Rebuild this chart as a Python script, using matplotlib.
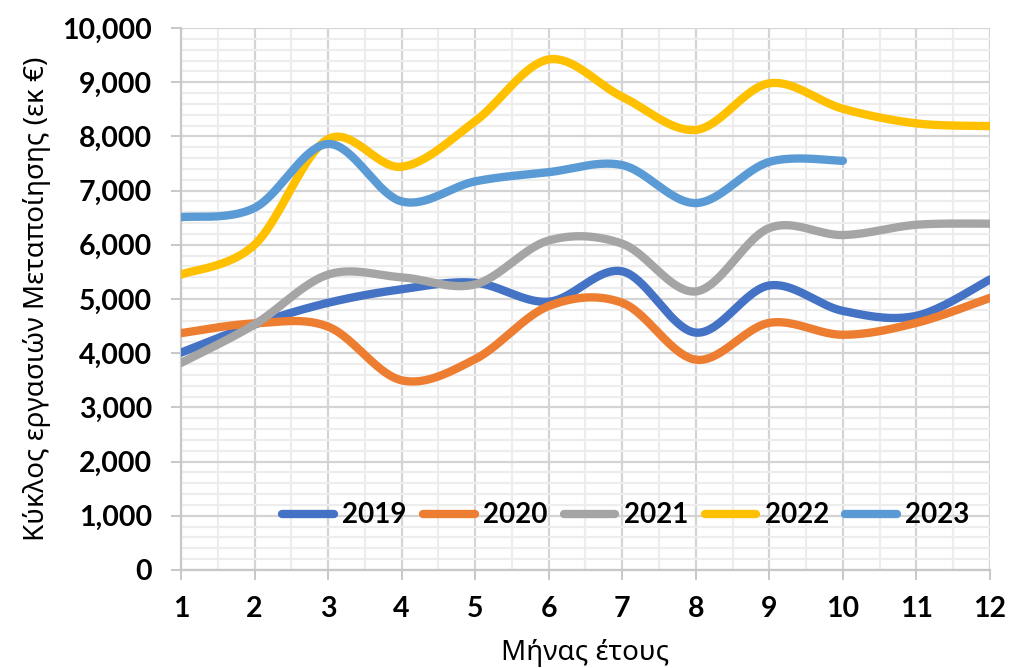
import numpy as np
import matplotlib
matplotlib.use("Agg")
import matplotlib.pyplot as plt
from matplotlib.ticker import MultipleLocator, FuncFormatter

# Monthly turnover (thousand €) per year
months = list(range(1, 13))
y2019 = [4010, 4530, 4930, 5180, 5300, 4950, 5510, 4380, 5250, 4780, 4690, 5360]
y2020 = [4370, 4550, 4490, 3500, 3890, 4870, 4930, 3880, 4560, 4340, 4560, 5020]
y2021 = [3820, 4530, 5450, 5400, 5270, 6080, 6020, 5140, 6310, 6180, 6370, 6390]
y2022 = [5450, 6000, 7950, 7440, 8280, 9420, 8730, 8120, 8980, 8510, 8240, 8190]
y2023 = [6510, 6680, 7860, 6800, 7170, 7340, 7470, 6770, 7530, 7550]

series = [
    ("2019", y2019, "#4472C4"),
    ("2020", y2020, "#ED7D31"),
    ("2021", y2021, "#A5A5A5"),
    ("2022", y2022, "#FFC000"),
    ("2023", y2023, "#5B9BD5"),
]


def smooth(xs, ys, n=40):
    """Bezier smoothing through every point (Catmull-Rom style tangents)."""
    xs = np.asarray(xs, float)
    ys = np.asarray(ys, float)
    px, py = [], []
    m = len(xs)
    for i in range(m - 1):
        x0, y0 = (xs[i - 1], ys[i - 1]) if i > 0 else (xs[i], ys[i])
        x1, y1 = xs[i], ys[i]
        x2, y2 = xs[i + 1], ys[i + 1]
        x3, y3 = (xs[i + 2], ys[i + 2]) if i + 2 < m else (x2, y2)
        c1x, c1y = x1 + (x2 - x0) / 6, y1 + (y2 - y0) / 6
        c2x, c2y = x2 - (x3 - x1) / 6, y2 - (y3 - y1) / 6
        t = np.linspace(0, 1, n, endpoint=(i == m - 2))
        a, b, c, d = (1 - t) ** 3, 3 * t * (1 - t) ** 2, 3 * t ** 2 * (1 - t), t ** 3
        px.append(a * x1 + b * c1x + c * c2x + d * x2)
        py.append(a * y1 + b * c1y + c * c2y + d * y2)
    return np.concatenate(px), np.concatenate(py)


plt.rcParams["font.family"] = ["Lato", "Noto Sans", "DejaVu Sans"]

fig = plt.figure(figsize=(10.09, 6.68), dpi=100)
ax = fig.add_axes([181 / 1009, 1 - 570 / 668, (990 - 181) / 1009, (570 - 28) / 668])

for label, vals, color in series:
    sx, sy = smooth(months[: len(vals)], vals)
    ax.plot(sx, sy, color=color, lw=6, solid_capstyle="round", label=label, zorder=3)

ax.set_xlim(1, 12)
ax.set_ylim(0, 10000)
ax.xaxis.set_major_locator(MultipleLocator(1))
ax.xaxis.set_minor_locator(MultipleLocator(0.5))
ax.yaxis.set_major_locator(MultipleLocator(1000))
ax.yaxis.set_minor_locator(MultipleLocator(200))
ax.yaxis.set_major_formatter(FuncFormatter(lambda v, p: f"{int(v):,}"))

ax.grid(which="major", color="#D4D4D4", lw=1.6, zorder=0)
ax.grid(which="minor", color="#EDEDED", lw=1.6, zorder=0)
ax.set_axisbelow(True)

for s in ("top", "right"):
    ax.spines[s].set_visible(False)
for s in ("left", "bottom"):
    ax.spines[s].set_color("#C8C8C8")
    ax.spines[s].set_linewidth(1.6)

ax.tick_params(which="major", length=7, width=1.4, color="#C8C8C8",
               labelsize=20.5, labelcolor="black")
ax.tick_params(which="minor", length=0)
ax.tick_params(axis="y", pad=14)
ax.tick_params(axis="x", pad=12)
for t in ax.get_xticklabels() + ax.get_yticklabels():
    t.set_fontweight("bold")

ax.set_xlabel("Μήνας έτους", fontsize=20, family=["Noto Sans", "DejaVu Sans"], labelpad=12)
ax.set_ylabel("Κύκλος εργασιών Μεταποίησης (εκ €)", fontsize=20,
              family=["Noto Sans", "DejaVu Sans"], labelpad=8)

leg = ax.legend(loc="center", bbox_to_anchor=(0.55, 0.101), ncol=5, frameon=False,
                handlelength=1.85, handletextpad=0.3, columnspacing=0.6,
                borderpad=0, prop={"size": 20, "weight": "bold"})
for h in leg.get_lines():
    h.set_linewidth(6)
    h.set_solid_capstyle("round")

fig.savefig("out.png", dpi=100)
